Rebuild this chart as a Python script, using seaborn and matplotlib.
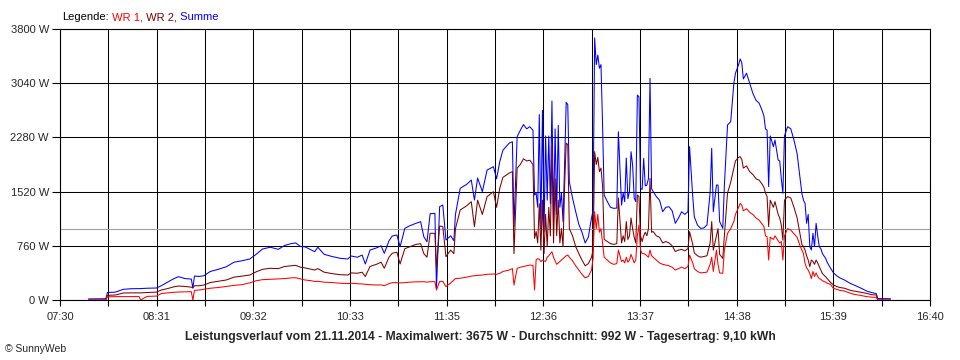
import numpy as np
import pandas as pd
import matplotlib
matplotlib.use("Agg")
import matplotlib.pyplot as plt
import seaborn as sns
from matplotlib.ticker import FixedLocator

# time in minutes after midnight, power in W
minutes = [468, 479, 480, 485, 490, 495, 500, 501, 505, 511, 514, 518, 522, 525, 529, 533, 534, 535, 538, 541,
           545, 550, 555, 560, 565, 570, 574, 578, 583, 588, 592, 596, 599, 602, 605, 609, 611, 613, 617, 622,
           627, 632, 634, 638, 641, 643, 646, 650, 653, 655, 658, 660, 663, 665, 668, 671, 675, 678, 680, 682,
           684, 687, 688, 690, 692, 694, 697, 699, 700, 703, 707, 710, 712, 714, 717, 720, 724, 726, 728, 730,
           732, 734, 736, 737, 739, 741, 743, 745, 747, 749, 750, 751, 752, 753, 754, 755, 756, 757, 758, 759,
           760, 761, 762, 763, 764, 765, 766, 767, 768, 769, 770, 771, 772, 774, 776, 778, 780, 782, 784, 786,
           787, 788, 789, 790, 791, 792, 793, 794, 796, 798, 800, 802, 803, 805, 806, 807, 808, 809, 810, 811,
           812, 813, 814, 815, 816, 817, 818, 819, 820, 821, 822, 823, 824, 825, 827, 829, 831, 833, 835, 837,
           839, 841, 843, 845, 847, 848, 850, 851, 853, 855, 857, 859, 861, 862, 863, 865, 866, 867, 869, 870,
           872, 874, 876, 877, 879, 880, 881, 882, 884, 886, 888, 890, 892, 894, 895, 896, 897, 898, 899, 901,
           902, 904, 905, 906, 907, 908, 910, 912, 914, 916, 918, 919, 920, 921, 922, 923, 924, 925, 926, 927,
           928, 929, 930, 931, 932, 934, 935, 937, 939, 941, 943, 946, 949, 952, 956, 960, 963, 966, 967, 975]

wr1 = [0, 0, 45, 47, 47, 48, 48, 0, 50, 55, 90, 100, 108, 112, 115, 117, 0, 135, 140, 150,
       165, 175, 190, 205, 215, 240, 270, 285, 290, 295, 300, 310, 312, 295, 280, 270, 260, 262, 250, 245,
       235, 230, 235, 228, 225, 220, 215, 210, 212, 200, 230, 243, 243, 240, 243, 250, 255, 255, 257, 250,
       257, 257, 140, 260, 262, 187, 240, 280, 300, 305, 320, 335, 340, 345, 350, 360, 365, 360, 374, 400,
       410, 420, 440, 210, 444, 460, 470, 480, 490, 485, 140, 560, 580, 570, 540, 560, 550, 540, 600, 620,
       650, 676, 600, 550, 500, 520, 540, 560, 580, 600, 620, 630, 600, 550, 480, 420, 360, 310, 330, 420,
       584, 1238, 1000, 1200, 950, 1000, 800, 600, 560, 520, 500, 510, 700, 540, 560, 520, 600, 530, 560, 640,
       580, 520, 560, 900, 1050, 700, 650, 650, 640, 620, 600, 700, 620, 600, 560, 520, 500, 490, 480, 460,
       420, 440, 460, 440, 470, 630, 520, 440, 400, 380, 385, 390, 500, 600, 400, 700, 500, 380, 374, 700,
       935, 1000, 1100, 1200, 1300, 1355, 1330, 1250, 1280, 1230, 1200, 1150, 1120, 1060, 1030, 900, 888, 561, 880, 850,
       900, 830, 800, 820, 561, 900, 1000, 980, 930, 880, 750, 700, 650, 514, 450, 420, 374, 300, 400, 330,
       380, 330, 300, 290, 270, 250, 235, 220, 163, 150, 135, 125, 100, 80, 65, 47, 40, 37, 0, 0]

wr2 = [0, 0, 65, 70, 98, 100, 100, 100, 105, 110, 140, 160, 185, 196, 190, 180, 170, 200, 200, 210,
       245, 262, 280, 320, 335, 350, 395, 430, 445, 440, 470, 480, 486, 460, 450, 430, 420, 440, 390, 370,
       355, 350, 380, 375, 390, 330, 470, 500, 530, 445, 600, 655, 670, 505, 720, 745, 780, 790, 650, 600,
       935, 935, 450, 1037, 1030, 607, 700, 650, 1000, 1262, 1320, 1378, 1028, 1400, 1200, 1449, 1519, 1300, 1565, 1720,
       1750, 1780, 1800, 650, 1850, 1900, 1980, 1950, 1960, 1900, 865, 960, 800, 1350, 700, 1400, 650, 1200, 750, 1300,
       900, 2150, 800, 1700, 900, 1400, 800, 1000, 750, 1600, 2200, 2180, 1000, 900, 750, 650, 560, 480, 510, 600,
       700, 2080, 1900, 2000, 1800, 1850, 1600, 850, 820, 790, 780, 790, 1430, 800, 900, 820, 1100, 850, 900, 1150,
       1000, 880, 800, 1472, 1450, 900, 820, 900, 950, 900, 1000, 1706, 950, 960, 900, 880, 800, 820, 800, 760,
       680, 700, 710, 690, 720, 958, 780, 660, 620, 600, 610, 620, 800, 1100, 700, 900, 1000, 640, 584, 900,
       1500, 1650, 1850, 1950, 2000, 2010, 1970, 1850, 1880, 1800, 1760, 1700, 1680, 1620, 1580, 1500, 1450, 1030, 1400, 1300,
       1380, 1200, 1150, 1050, 841, 1400, 1450, 1430, 1300, 1150, 900, 780, 748, 700, 620, 560, 467, 560, 540, 500,
       560, 520, 467, 420, 370, 327, 300, 250, 210, 190, 175, 165, 140, 125, 110, 93, 75, 70, 0, 0]

summe = [15, 18, 105, 110, 150, 158, 160, 160, 165, 168, 200, 250, 300, 327, 300, 294, 168, 336, 330, 340,
         400, 430, 465, 530, 550, 575, 640, 715, 740, 710, 765, 790, 800, 750, 745, 700, 677, 740, 640, 610,
         585, 575, 617, 600, 630, 505, 700, 730, 760, 654, 830, 897, 911, 747, 1005, 1040, 1075, 1098, 887, 817,
         1210, 1215, 170, 1308, 1332, 841, 900, 830, 1200, 1566, 1620, 1682, 1402, 1710, 1520, 1822, 1869, 1700, 1939, 2100,
         2150, 2200, 2220, 1028, 2290, 2380, 2460, 2400, 2430, 2380, 1472, 1500, 1300, 2600, 1000, 2660, 958, 2300, 1400, 2300,
         1350, 2790, 1100, 2400, 1200, 2450, 1300, 1500, 1100, 1900, 2772, 2740, 1659, 1430, 1240, 1060, 950, 800, 880, 1150,
         1250, 3675, 3300, 3435, 3250, 3300, 2454, 1472, 1380, 1300, 1285, 1290, 2360, 1330, 1500, 1380, 1990, 1420, 1520, 2080,
         1890, 1430, 1380, 2874, 2850, 1566, 1550, 1987, 1600, 1612, 1700, 3108, 1560, 1520, 1450, 1400, 1238, 1300, 1308, 1250,
         1075, 1150, 1238, 1200, 1240, 2150, 1450, 1168, 1050, 1005, 1010, 1051, 1505, 2127, 1238, 1612, 1612, 1100, 1005, 1600,
         2454, 2500, 3038, 3178, 3300, 3380, 3330, 3100, 3180, 3040, 2900, 2800, 2760, 2650, 2580, 2400, 2380, 1590, 2300, 2150,
         2243, 1963, 1950, 1700, 1496, 2300, 2430, 2400, 2243, 2050, 1682, 1495, 1400, 1355, 1075, 1200, 748, 701, 935, 748,
         1075, 900, 748, 720, 650, 584, 530, 450, 380, 340, 310, 280, 240, 210, 170, 125, 105, 90, 20, 18]

x_labels = ["07:30", "08:31", "09:32", "10:33", "11:35", "12:36", "13:37", "14:38", "15:39", "16:40"]
y_ticks = [0, 760, 1520, 2280, 3040, 3800]
durchschnitt = 992

df = pd.DataFrame({"t": minutes, "WR 1": wr1, "WR 2": wr2, "Summe": summe})

sns.set_style("white")
plt.rcParams["font.family"] = ["Liberation Sans", "DejaVu Sans"]

fig = plt.figure(figsize=(9.6, 3.6), dpi=100)
ax = fig.add_axes([60 / 960, 60 / 360, 870 / 960, 271 / 360])

# gridlines
major = np.linspace(450, 1000, len(x_labels))
minor = (major[:-1] + major[1:]) / 2
ax.xaxis.set_major_locator(FixedLocator(major))
ax.xaxis.set_minor_locator(FixedLocator(minor))
ax.set_xticklabels(x_labels)
ax.set_yticks(y_ticks)
ax.set_yticklabels([f"{v} W" for v in y_ticks])
ax.grid(True, which="both", axis="x", color="black", linewidth=0.75)
ax.grid(True, which="major", axis="y", color="black", linewidth=0.75)
ax.set_axisbelow(True)

ax.axhline(durchschnitt, color="#a0a0a0", linewidth=0.8, zorder=1.5)

for col, c in [("Summe", "#0000ff"), ("WR 2", "#800000"), ("WR 1", "#ff0000")]:
    sns.lineplot(data=df, x="t", y=col, color=c, linewidth=0.75, ax=ax, estimator=None)

ax.set_xlim(450, 1000)
ax.set_ylim(0, 3800)
ax.set_xlabel("")
ax.set_ylabel("")
for s in ax.spines.values():
    s.set_color("black")
    s.set_linewidth(0.8)

ax.tick_params(axis="x", which="both", direction="out", length=4, width=0.8,
               color="black", bottom=True, labelsize=8, pad=5)
ax.tick_params(axis="y", which="major", direction="out", length=6, width=0.8,
               color="black", left=True, labelsize=8, pad=2)

# legend line at the top
t0 = fig.text(62 / 960, 1 - 17 / 360, "Legende:", color="black", fontsize=8, va="center")
prev = t0
for label, c in [(" WR 1,", "#ff0000"), (" WR 2,", "#800000"), (" Summe", "#0000ff")]:
    prev = ax.annotate(label, xy=(1, 0), xycoords=prev, ha="left", va="bottom",
                       color=c, fontsize=8, annotation_clip=False)

fig.text(0.5, 1 - 337 / 360,
         "Leistungsverlauf vom 21.11.2014 - Maximalwert: 3675 W - Durchschnitt: 992 W - Tagesertrag: 9,10 kWh",
         ha="center", va="center", fontsize=8.7, fontweight="bold")
fig.text(5 / 960, 1 - 349 / 360, "© SunnyWeb", ha="left", va="center", fontsize=7.5)

fig.savefig("out.png", dpi=100)
